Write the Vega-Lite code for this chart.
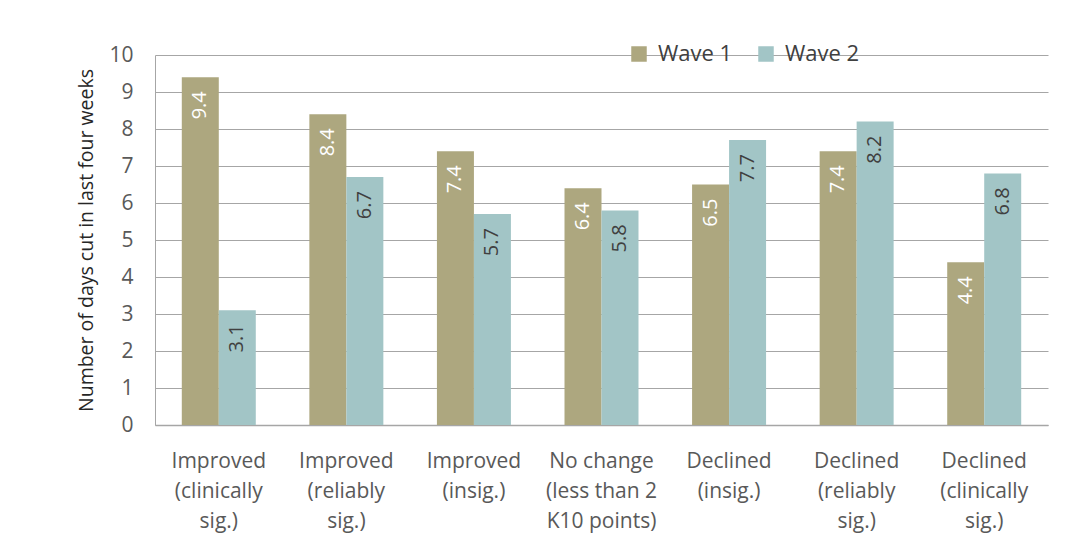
{
  "$schema": "https://vega.github.io/schema/vega-lite/v6.json",
  "width": 893,
  "height": 370,
  "autosize": {"type": "none"},
  "padding": {"left": 155, "top": 55, "right": 17, "bottom": 129},
  "background": "white",
  "config": {"view": {"stroke": null}, "font": "Open Sans"},
  "data": {"values": [
    {"cat": "Improved|(clinically|sig.)", "wave": "Wave 1", "v": 9.4},
    {"cat": "Improved|(clinically|sig.)", "wave": "Wave 2", "v": 3.1},
    {"cat": "Improved|(reliably|sig.)", "wave": "Wave 1", "v": 8.4},
    {"cat": "Improved|(reliably|sig.)", "wave": "Wave 2", "v": 6.7},
    {"cat": "Improved|(insig.)", "wave": "Wave 1", "v": 7.4},
    {"cat": "Improved|(insig.)", "wave": "Wave 2", "v": 5.7},
    {"cat": "No change|(less than 2|K10 points)", "wave": "Wave 1", "v": 6.4},
    {"cat": "No change|(less than 2|K10 points)", "wave": "Wave 2", "v": 5.8},
    {"cat": "Declined|(insig.)", "wave": "Wave 1", "v": 6.5},
    {"cat": "Declined|(insig.)", "wave": "Wave 2", "v": 7.7},
    {"cat": "Declined|(reliably|sig.)", "wave": "Wave 1", "v": 7.4},
    {"cat": "Declined|(reliably|sig.)", "wave": "Wave 2", "v": 8.2},
    {"cat": "Declined|(clinically|sig.)", "wave": "Wave 1", "v": 4.4},
    {"cat": "Declined|(clinically|sig.)", "wave": "Wave 2", "v": 6.8}
  ]},
  "encoding": {
    "x": {
      "field": "cat", "type": "nominal", "sort": null,
      "scale": {"paddingInner": 0.42, "paddingOuter": 0.21},
      "axis": {
        "title": null, "labelAngle": 0, "labelExpr": "split(datum.label, '|')",
        "labelFontSize": 21, "labelColor": "#595959", "labelLineHeight": 30,
        "labelPadding": 25, "ticks": false, "domainColor": "#A6A6A6", "domainWidth": 1.5,
        "labelBaseline": "top"
      }
    },
    "xOffset": {"field": "wave", "type": "nominal"},
    "y": {
      "field": "v", "type": "quantitative",
      "scale": {"domain": [0, 10], "nice": false},
      "axis": {
        "title": "Number of days cut in last four weeks", "titleFontSize": 19.5,
        "titleColor": "#262626", "titleFontWeight": "normal", "titlePadding": 12,
        "values": [0,1,2,3,4,5,6,7,8,9,10], "labelOverlap": false,
        "labelFontSize": 21, "labelColor": "#595959", "labelPadding": 22,
        "ticks": false, "domain": true, "domainColor": "#A6A6A6", "domainWidth": 1,
        "gridColor": "#A6A6A6", "gridWidth": 1
      }
    }
  },
  "layer": [
    {
      "mark": {"type": "bar"},
      "encoding": {
        "color": {
          "field": "wave", "type": "nominal",
          "scale": {"domain": ["Wave 1", "Wave 2"], "range": ["#ADA77F", "#A2C5C6"]},
          "legend": {
            "title": null, "orient": "none", "legendX": 473, "legendY": -12,
            "direction": "horizontal", "symbolType": "square", "symbolSize": 240,
            "symbolStrokeWidth": 0, "labelFontSize": 22, "labelColor": "#404040",
            "columnPadding": 22, "labelOffset": 8
          }
        }
      }
    },
    {
      "mark": {"type": "text", "angle": 270, "align": "right", "baseline": "middle", "dx": -14, "fontSize": 20},
      "encoding": {
        "text": {"field": "v", "type": "quantitative", "format": ".1f"},
        "color": {
          "field": "wave", "type": "nominal",
          "scale": {"domain": ["Wave 1", "Wave 2"], "range": ["#FFFFFF", "#404040"]},
          "legend": null
        }
      }
    }
  ],
  "resolve": {"scale": {"color": "independent"}}
}
